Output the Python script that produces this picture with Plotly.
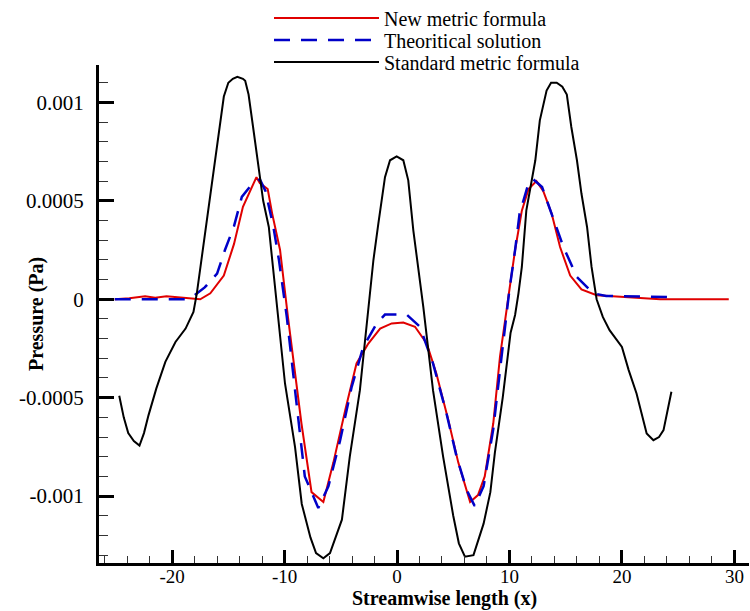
import plotly.graph_objects as go

# Standard metric formula (black)
std_x = [-24.7, -24.3, -23.9, -23.4, -22.9, -22.5, -22.1, -21.4, -20.6, -19.7, -18.8, -18.1, -17.8, -17.4,
         -17.1, -16.3, -15.4, -15.0, -14.6, -14.2, -13.7, -13.5, -13.2, -12.8, -12.3, -11.9, -11.4, -11.0,
         -10.7, -10.3, -9.96, -9.07, -8.47, -7.7, -7.2, -6.55, -5.96, -4.9, -4.2, -3.3, -2.84, -2.55, -2.1,
         -1.66, -1.07, -0.62, -0.03, 0.56, 1.0, 1.45, 1.9, 2.34, 3.2, 4.1, 5.0, 5.5, 6.04, 6.8, 7.7, 8.3,
         8.7, 9.4, 10.1, 10.5, 10.8, 11.1, 11.5, 12.3, 12.7, 13.3, 13.7, 14.2, 14.7, 15.1, 15.5, 16.0, 16.4,
         16.9, 17.3, 17.75, 18.3, 18.9, 20.0, 20.6, 21.3, 21.9, 22.2, 22.8, 23.3, 23.7, 24.1, 24.4]
std_y = [-0.00049, -0.00060, -0.00068, -0.00072, -0.000743, -0.00068, -0.00059, -0.000453, -0.000318,
         -0.000217, -0.000149, -0.000064, 0.00003, 0.000198, 0.0003, 0.000655, 0.00103, 0.0011, 0.00112,
         0.00113, 0.00112, 0.00111, 0.00104, 0.000875, 0.000655, 0.0005, 0.000367, 0.000147, -0.00004,
         -0.00023, -0.000428, -0.00075, -0.00104, -0.00121, -0.00129, -0.001316, -0.00129, -0.00112, -0.0008,
         -0.000462, -0.000208, -0.000039, 0.000198, 0.000384, 0.00062, 0.000706, 0.000726, 0.000706, 0.000604,
         0.00035, 0.000147, -0.00004, -0.000462, -0.0008, -0.0011, -0.00124, -0.001308, -0.0013, -0.00114,
         -0.00098, -0.00078, -0.0005, -0.00017, -0.00008, 0.00003, 0.000164, 0.000452, 0.000706, 0.000909,
         0.00106, 0.0011, 0.0011, 0.00108, 0.00104, 0.000875, 0.000706, 0.000537, 0.000367, 0.000164, 0.0,
         -0.00009, -0.000157, -0.000242, -0.00036, -0.000479, -0.000614, -0.000682, -0.000716, -0.0007,
         -0.000665, -0.000563, -0.00047]

# New metric formula (red)
new_x = [-25.1, -23.8, -22.4, -21.5, -20.5, -19.1, -17.5, -16.6, -15.4, -14.5, -13.7, -12.5, -12.2, -11.5,
         -11.1, -10.4, -9.7, -8.5, -7.6, -6.55, -5.66, -4.6, -3.6, -2.55, -1.5, -0.47, 0.56, 1.6, 2.64, 3.5,
         4.56, 5.45, 6.5, 7.2, 7.8, 8.56, 9.16, 10.0, 10.5, 11.1, 11.7, 12.4, 13.0, 13.75, 14.5, 15.4, 16.4,
         17.75, 20.4, 23.4, 29.5]
new_y = [0.0, 0.000005, 0.000015, 0.000008, 0.000015, 0.000007, 0.0, 0.00003, 0.00012, 0.00028, 0.00047,
         0.00062, 0.00059, 0.00056, 0.000435, 0.00025, -0.00009, -0.00063, -0.00098, -0.00103, -0.00083,
         -0.000563, -0.000326, -0.000225, -0.000149, -0.000123, -0.000118, -0.00014, -0.000225, -0.000377,
         -0.000614, -0.00083, -0.00103, -0.000995, -0.0009, -0.00063, -0.00029, 0.00005, 0.00025, 0.00045,
         0.00056, 0.0006, 0.00055, 0.000435, 0.000265, 0.00012, 0.00005, 0.00002, 0.000009, 0.0, 0.0]

# Theoritical solution (blue dashed)
th_x = [-25.1, -18.8, -18.0, -17.1, -16.0, -15.3, -14.5, -13.8, -13.1, -12.2, -11.7, -11.0, -10.5, -9.8,
        -9.07, -8.2, -7.0, -6.1, -5.07, -4.03, -3.0, -1.8, -1.07, 0.86, 2.04, 3.2, 4.4, 5.3, 6.2, 6.9, 7.7,
        8.56, 9.3, 10.0, 10.5, 10.9, 11.7, 12.1, 12.9, 13.75, 14.8, 16.0, 17.45, 18.6, 21.6, 24.9]
th_y = [0.0, 0.0, 0.00002, 0.00006, 0.00013, 0.00025, 0.00037, 0.00052, 0.00057, 0.00061, 0.00055, 0.00037,
        0.0002, -0.00009, -0.00046, -0.0009, -0.00106, -0.00095, -0.00072, -0.000445, -0.000242, -0.000123,
        -0.000078, -0.000078, -0.00014, -0.000326, -0.00058, -0.0008, -0.00097, -0.00105, -0.00095, -0.00066,
        -0.00029, 0.00005, 0.00025, 0.000435, 0.00059, 0.00061, 0.00057, 0.000435, 0.000265, 0.000113,
        0.00003, 0.000017, 0.000015, 0.00001]

x_tickvals = [-20, -10, 0, 10, 20, 30]
x_ticktext = ["-20", "-10", "0", "10", "20", "30"]
y_tickvals = [0.001, 0.0005, 0, -0.0005, -0.001]
y_ticktext = ["0.001", "0.0005", "0", "-0.0005", "-0.001"]

FONT = "Liberation Serif, Times New Roman, serif"

fig = go.Figure()
fig.add_trace(go.Scatter(x=new_x, y=new_y, mode="lines", name="New metric formula", showlegend=True,
                         line=dict(color="#e00000", width=2), legend="legend"))
fig.add_trace(go.Scatter(x=th_x, y=th_y, mode="lines", name="Theoritical solution", showlegend=True,
                         line=dict(color="#0000c8", width=2.5, dash="16px,11px"), legend="legend2"))
fig.add_trace(go.Scatter(x=std_x, y=std_y, mode="lines", name="Standard metric formula", showlegend=True,
                         line=dict(color="black", width=2), legend="legend3"))

leg_common = dict(font=dict(family=FONT, size=20, color="black"), bgcolor="rgba(0,0,0,0)",
                  xanchor="left", yanchor="middle", itemwidth=105, borderwidth=0, visible=True)
LEG_X = (269 - 99) / 650


def py2paper(py):
    return (563 - py) / 498


fig.update_layout(
    width=750, height=611,
    showlegend=True,
    margin=dict(l=99, r=1, t=65, b=48, autoexpand=False),
    paper_bgcolor="white", plot_bgcolor="white",
    font=dict(family=FONT, size=21, color="black"),
    legend=dict(x=LEG_X, y=py2paper(18), **leg_common),
    legend2=dict(x=LEG_X, y=py2paper(40), **leg_common),
    legend3=dict(x=LEG_X, y=py2paper(62), **leg_common),
    xaxis=dict(range=[-26.5, 31.3], showgrid=False, zeroline=False, showline=True, linewidth=3,
               linecolor="black", ticks="inside", ticklen=13, tickwidth=3, tickcolor="black",
               tickvals=x_tickvals, ticktext=x_ticktext, ticklabelstandoff=-6,
               minor=dict(dtick=2, tick0=0, ticks="inside", ticklen=7, tickwidth=1, tickcolor="#333"),
               tickfont=dict(family=FONT, size=19)),
    yaxis=dict(range=[-0.00134, 0.00119], showgrid=False, zeroline=False, showline=True, linewidth=3,
               linecolor="black", ticks="inside", ticklen=15, tickwidth=3, tickcolor="black",
               tickvals=y_tickvals, ticktext=y_ticktext, ticklabelstandoff=8,
               minor=dict(dtick=0.0001, tick0=0, ticks="inside", ticklen=9, tickwidth=1, tickcolor="#333"),
               tickfont=dict(family=FONT, size=21)),
    annotations=[
        dict(text="<b>Streamwise length (x)</b>", xref="paper", yref="paper",
             x=(444 - 99) / 650, y=py2paper(598), xanchor="center", yanchor="middle", showarrow=False,
             font=dict(family=FONT, size=20, color="black")),
        dict(text="<b>Pressure (Pa)</b>", xref="paper", yref="paper", textangle=-90,
             x=(36 - 99) / 650, y=py2paper(314), xanchor="center", yanchor="middle", showarrow=False,
             font=dict(family=FONT, size=20, color="black")),
    ],
)
fig.write_html("out.html")
